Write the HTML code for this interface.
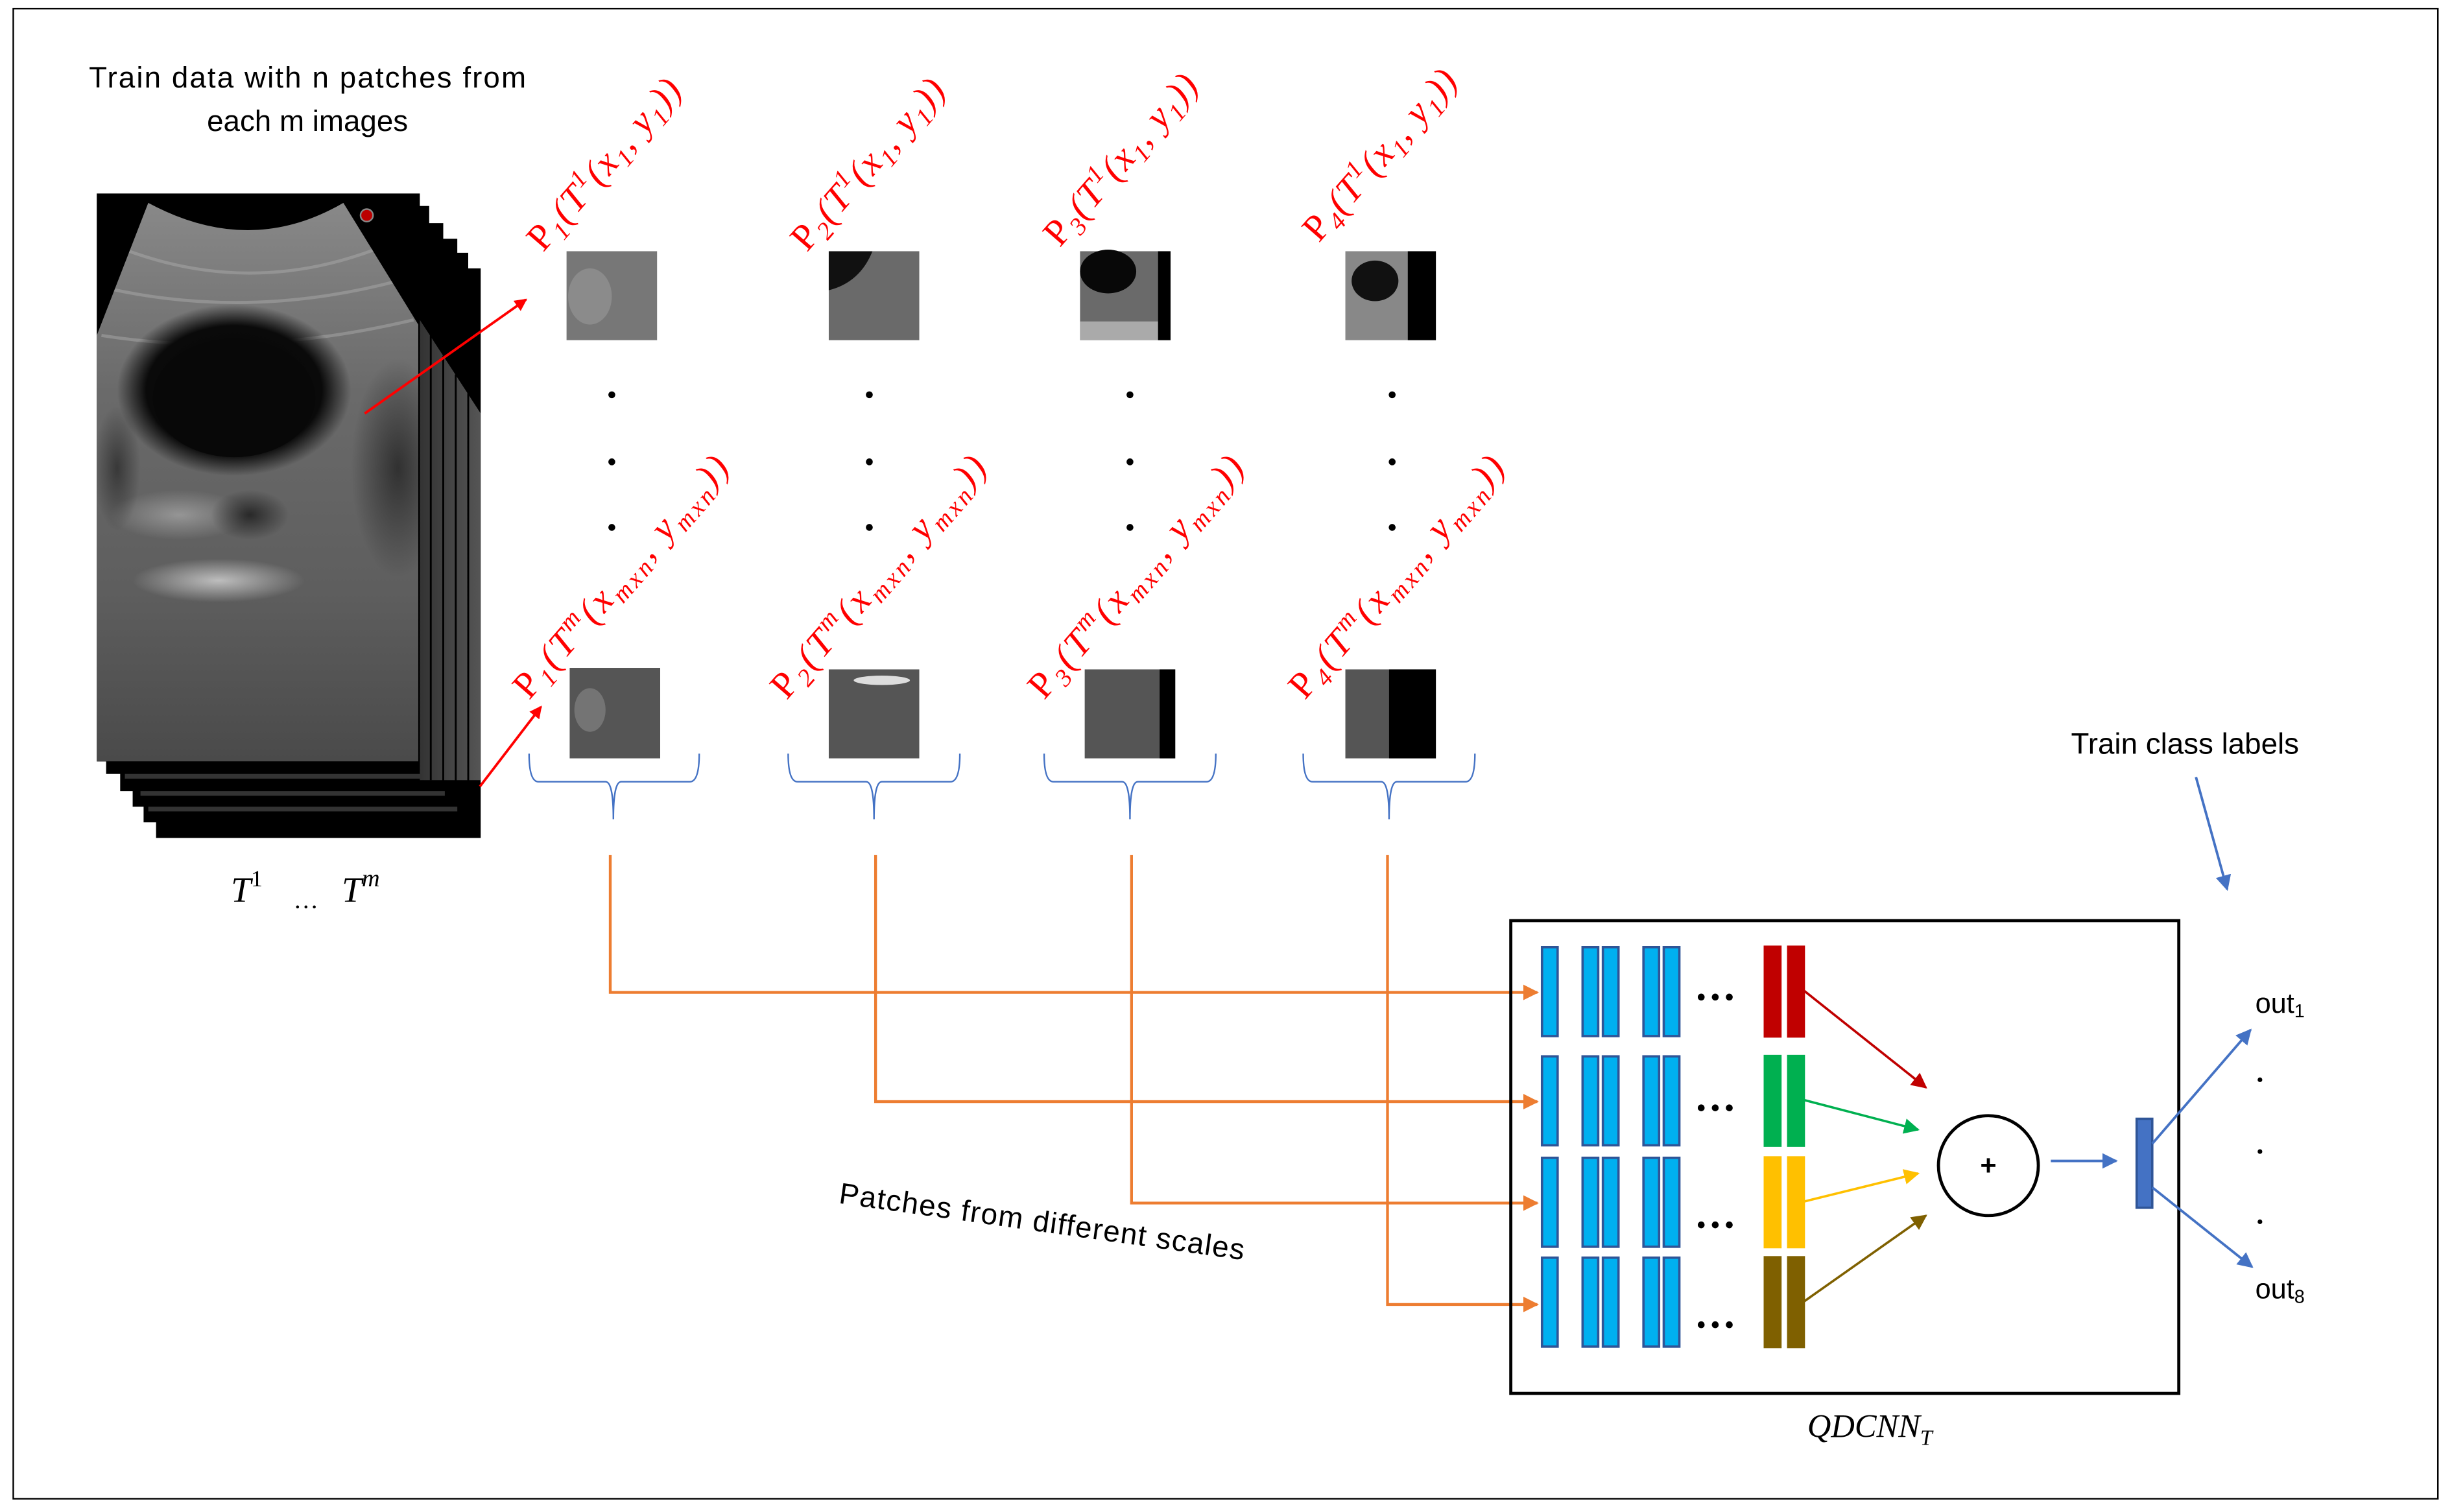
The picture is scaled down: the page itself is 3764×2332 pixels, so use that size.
<!DOCTYPE html>
<html><head><meta charset="utf-8"><style>html,body{margin:0;padding:0;background:#fff;}svg{display:block}</style></head>
<body>
<svg xmlns="http://www.w3.org/2000/svg" width="3764" height="2332" viewBox="0 0 1564 969" preserveAspectRatio="none">
<defs>
<radialGradient id="cyst" cx="0.5" cy="0.5" r="0.5"><stop offset="0" stop-color="#050505"/><stop offset="0.75" stop-color="#0a0a0a"/><stop offset="1" stop-color="#0a0a0a" stop-opacity="0"/></radialGradient>
<radialGradient id="bright" cx="0.5" cy="0.5" r="0.5"><stop offset="0" stop-color="#c8c8c8"/><stop offset="1" stop-color="#c8c8c8" stop-opacity="0"/></radialGradient>
<radialGradient id="dark" cx="0.5" cy="0.5" r="0.5"><stop offset="0" stop-color="#1a1a1a"/><stop offset="1" stop-color="#1a1a1a" stop-opacity="0"/></radialGradient>
<linearGradient id="us" x1="0" y1="0" x2="0" y2="1"><stop offset="0" stop-color="#8a8a8a"/><stop offset="0.35" stop-color="#6a6a6a"/><stop offset="0.7" stop-color="#5e5e5e"/><stop offset="1" stop-color="#4a4a4a"/></linearGradient>
<linearGradient id="side" x1="0" y1="0" x2="1" y2="0"><stop offset="0" stop-color="#333"/><stop offset="1" stop-color="#555"/></linearGradient>
<clipPath id="fan"><path d="M62,215 L95,130 Q160,165 220,130 L268,208 L268,488 L62,488 Z"/></clipPath>
<marker id="ar" markerWidth="8" markerHeight="8" refX="7" refY="4" orient="auto" markerUnits="userSpaceOnUse"><path d="M0,0 L8,4 L0,8 Z" fill="#ff0000"/></marker>
<marker id="ao" markerWidth="10" markerHeight="10" refX="9" refY="5" orient="auto" markerUnits="userSpaceOnUse"><path d="M0,0 L10,5 L0,10 Z" fill="#ED7D31"/></marker>
<marker id="ab" markerWidth="10" markerHeight="10" refX="9" refY="5" orient="auto" markerUnits="userSpaceOnUse"><path d="M0,0 L10,5 L0,10 Z" fill="#4472C4"/></marker>
<marker id="mr" markerWidth="10" markerHeight="10" refX="9" refY="5" orient="auto" markerUnits="userSpaceOnUse"><path d="M0,0 L10,5 L0,10 Z" fill="#C00000"/></marker>
<marker id="mg" markerWidth="10" markerHeight="10" refX="9" refY="5" orient="auto" markerUnits="userSpaceOnUse"><path d="M0,0 L10,5 L0,10 Z" fill="#00B050"/></marker>
<marker id="my" markerWidth="10" markerHeight="10" refX="9" refY="5" orient="auto" markerUnits="userSpaceOnUse"><path d="M0,0 L10,5 L0,10 Z" fill="#FFC000"/></marker>
<marker id="mb" markerWidth="10" markerHeight="10" refX="9" refY="5" orient="auto" markerUnits="userSpaceOnUse"><path d="M0,0 L10,5 L0,10 Z" fill="#7F6000"/></marker>
</defs>

<rect x="8.5" y="5.5" width="1553.5" height="955" fill="none" stroke="#000" stroke-width="1"/>

<text x="197" y="56" font-family="Liberation Sans, sans-serif" font-size="19" text-anchor="middle" textLength="280">Train data with n patches from</text>
<text x="197" y="84" font-family="Liberation Sans, sans-serif" font-size="19" text-anchor="middle">each m images</text>

<!-- stack back layers -->
<rect x="100" y="172" width="208" height="365" fill="#000"/>
<rect x="92" y="162" width="208" height="365" fill="#000"/>
<rect x="85" y="153" width="208" height="364" fill="#000"/>
<rect x="77" y="143" width="207" height="364" fill="#000"/>
<rect x="68" y="132" width="207" height="364" fill="#000"/>
<path d="M269,205 L308,265 L308,500 L269,500 Z" fill="url(#side)"/>
<g stroke="#000" stroke-width="1.2"><line x1="276" y1="215" x2="276" y2="500"/><line x1="284" y1="228" x2="284" y2="505"/><line x1="292" y1="240" x2="292" y2="515"/><line x1="300" y1="252" x2="300" y2="525"/></g>
<g fill="#333"><rect x="80" y="496" width="190" height="3"/><rect x="90" y="507" width="195" height="3"/><rect x="95" y="517" width="198" height="3"/></g>
<!-- main ultrasound -->
<rect x="62" y="124" width="207" height="364" fill="#000"/>
<g clip-path="url(#fan)">
<rect x="62" y="124" width="207" height="364" fill="url(#us)"/>
<g stroke="#aaa" stroke-width="2" opacity="0.5" fill="none"><path d="M80,160 Q160,190 240,160"/><path d="M70,185 Q160,205 255,180"/><path d="M65,215 Q160,230 265,205"/></g>
<ellipse cx="150" cy="250" rx="75" ry="55" fill="url(#cyst)"/>
<ellipse cx="150" cy="255" rx="52" ry="38" fill="#080808"/>
<ellipse cx="140" cy="372" rx="55" ry="14" fill="url(#bright)" opacity="0.9"/>
<ellipse cx="115" cy="330" rx="45" ry="16" fill="url(#bright)" opacity="0.5"/>
<ellipse cx="160" cy="330" rx="25" ry="16" fill="url(#dark)" opacity="0.8"/>
<ellipse cx="255" cy="300" rx="30" ry="70" fill="url(#dark)" opacity="0.7"/>
<ellipse cx="75" cy="300" rx="15" ry="40" fill="url(#dark)" opacity="0.6"/>
</g>
<circle cx="235" cy="138" r="4" fill="#b00" stroke="#888" stroke-width="1"/>

<!-- red arrows -->
<line x1="233.7" y1="265" x2="337" y2="192" stroke="#ff0000" stroke-width="1.6" marker-end="url(#ar)"/>
<line x1="307.5" y1="504" x2="346.6" y2="453" stroke="#ff0000" stroke-width="1.6" marker-end="url(#ar)"/>

<!-- patches -->
<rect x="363" y="161" width="58" height="57" fill="#777"/>
<ellipse cx="378" cy="190" rx="14" ry="18" fill="#999" opacity="0.6"/>
<rect x="531" y="161" width="58" height="57" fill="#6a6a6a"/>
<path d="M531,161 h28 q-8,20 -28,25 z" fill="#111"/>
<rect x="692" y="161" width="58" height="57" fill="#6a6a6a"/>
<ellipse cx="710" cy="174" rx="18" ry="14" fill="#080808"/>
<rect x="692" y="206" width="50" height="12" fill="#aaa"/>
<rect x="742" y="161" width="8" height="57" fill="#000"/>
<rect x="862" y="161" width="58" height="57" fill="#888"/>
<ellipse cx="881" cy="180" rx="15" ry="13" fill="#111"/>
<rect x="902" y="161" width="18" height="57" fill="#000"/>
<rect x="365" y="428" width="58" height="58" fill="#555"/>
<ellipse cx="378" cy="455" rx="10" ry="14" fill="#888" opacity="0.6"/>
<rect x="531" y="429" width="58" height="57" fill="#555"/>
<ellipse cx="565" cy="436" rx="18" ry="3" fill="#ddd"/>
<rect x="695" y="429" width="58" height="57" fill="#555"/>
<rect x="743" y="429" width="10" height="57" fill="#000"/>
<rect x="862" y="429" width="58" height="57" fill="#555"/>
<rect x="890" y="429" width="30" height="57" fill="#000"/>

<!-- dots -->
<g fill="#000">
<circle cx="392" cy="253" r="2.2"/><circle cx="392" cy="296" r="2.2"/><circle cx="392" cy="338" r="2.2"/>
<circle cx="557" cy="253" r="2.2"/><circle cx="557" cy="296" r="2.2"/><circle cx="557" cy="338" r="2.2"/>
<circle cx="724" cy="253" r="2.2"/><circle cx="724" cy="296" r="2.2"/><circle cx="724" cy="338" r="2.2"/>
<circle cx="892" cy="253" r="2.2"/><circle cx="892" cy="296" r="2.2"/><circle cx="892" cy="338" r="2.2"/>
</g>

<!-- rotated labels -->
<g font-family="Liberation Serif, serif" font-style="italic" font-size="24" fill="#ff0000">
<text transform="translate(348,162) rotate(-49)" textLength="137" lengthAdjust="spacing"><tspan font-style="normal">P</tspan><tspan font-size="16" dy="5">1</tspan><tspan dy="-5">(T</tspan><tspan font-size="16" dy="-9">1</tspan><tspan dy="9">(x</tspan><tspan font-size="16" dy="5">1</tspan><tspan dy="-5">, y</tspan><tspan font-size="16" dy="5">1</tspan><tspan dy="-5">))</tspan></text>
<text transform="translate(517,162) rotate(-49)" textLength="137" lengthAdjust="spacing"><tspan font-style="normal">P</tspan><tspan font-size="16" dy="5">2</tspan><tspan dy="-5">(T</tspan><tspan font-size="16" dy="-9">1</tspan><tspan dy="9">(x</tspan><tspan font-size="16" dy="5">1</tspan><tspan dy="-5">, y</tspan><tspan font-size="16" dy="5">1</tspan><tspan dy="-5">))</tspan></text>
<text transform="translate(679,159) rotate(-49)" textLength="137" lengthAdjust="spacing"><tspan font-style="normal">P</tspan><tspan font-size="16" dy="5">3</tspan><tspan dy="-5">(T</tspan><tspan font-size="16" dy="-9">1</tspan><tspan dy="9">(x</tspan><tspan font-size="16" dy="5">1</tspan><tspan dy="-5">, y</tspan><tspan font-size="16" dy="5">1</tspan><tspan dy="-5">))</tspan></text>
<text transform="translate(845,156) rotate(-49)" textLength="137" lengthAdjust="spacing"><tspan font-style="normal">P</tspan><tspan font-size="16" dy="5">4</tspan><tspan dy="-5">(T</tspan><tspan font-size="16" dy="-9">1</tspan><tspan dy="9">(x</tspan><tspan font-size="16" dy="5">1</tspan><tspan dy="-5">, y</tspan><tspan font-size="16" dy="5">1</tspan><tspan dy="-5">))</tspan></text>

<text transform="translate(339,449) rotate(-49)" textLength="197" lengthAdjust="spacing"><tspan font-style="normal">P</tspan><tspan font-size="16" dy="5">1</tspan><tspan dy="-5">(T</tspan><tspan font-size="16" dy="-9">m</tspan><tspan dy="9">(x</tspan><tspan font-size="16" dy="5">mxn</tspan><tspan dy="-5">, y</tspan><tspan font-size="16" dy="5">mxn</tspan><tspan dy="-5">))</tspan></text>
<text transform="translate(504,449) rotate(-49)" textLength="197" lengthAdjust="spacing"><tspan font-style="normal">P</tspan><tspan font-size="16" dy="5">2</tspan><tspan dy="-5">(T</tspan><tspan font-size="16" dy="-9">m</tspan><tspan dy="9">(x</tspan><tspan font-size="16" dy="5">mxn</tspan><tspan dy="-5">, y</tspan><tspan font-size="16" dy="5">mxn</tspan><tspan dy="-5">))</tspan></text>
<text transform="translate(669,449) rotate(-49)" textLength="197" lengthAdjust="spacing"><tspan font-style="normal">P</tspan><tspan font-size="16" dy="5">3</tspan><tspan dy="-5">(T</tspan><tspan font-size="16" dy="-9">m</tspan><tspan dy="9">(x</tspan><tspan font-size="16" dy="5">mxn</tspan><tspan dy="-5">, y</tspan><tspan font-size="16" dy="5">mxn</tspan><tspan dy="-5">))</tspan></text>
<text transform="translate(836,449) rotate(-49)" textLength="197" lengthAdjust="spacing"><tspan font-style="normal">P</tspan><tspan font-size="16" dy="5">4</tspan><tspan dy="-5">(T</tspan><tspan font-size="16" dy="-9">m</tspan><tspan dy="9">(x</tspan><tspan font-size="16" dy="5">mxn</tspan><tspan dy="-5">, y</tspan><tspan font-size="16" dy="5">mxn</tspan><tspan dy="-5">))</tspan></text>
</g>

<!-- braces -->
<g fill="none" stroke="#4472C4" stroke-width="1">
<path d="M339,483 Q339,501 345,501 H388 Q393,501 393,525 Q393,501 398,501 H442 Q448,501 448,483"/>
<path d="M505,483 Q505,501 511,501 H555 Q560,501 560,525 Q560,501 565,501 H609 Q615,501 615,483"/>
<path d="M669,483 Q669,501 675,501 H719 Q724,501 724,525 Q724,501 729,501 H773 Q779,501 779,483"/>
<path d="M835,483 Q835,501 841,501 H885 Q890,501 890,525 Q890,501 895,501 H939 Q945,501 945,483"/>
</g>

<!-- T labels -->
<text x="148" y="578" font-family="Liberation Serif, serif" font-style="italic" font-size="23">T<tspan font-style="normal" font-size="15" dy="-10">1</tspan></text>
<text x="188" y="582" font-family="Liberation Serif, serif" font-size="16">…</text>
<text x="219" y="578" font-family="Liberation Serif, serif" font-style="italic" font-size="23">T<tspan font-size="16" dy="-10">m</tspan></text>

<!-- orange connectors -->
<g fill="none" stroke="#ED7D31" stroke-width="1.8">
<polyline points="391,548 391,636 985,636" marker-end="url(#ao)"/>
<polyline points="561,548 561,706 985,706" marker-end="url(#ao)"/>
<polyline points="725,548 725,771 985,771" marker-end="url(#ao)"/>
<polyline points="889,548 889,836 985,836" marker-end="url(#ao)"/>
</g>

<text transform="translate(537,771) rotate(8)" font-family="Liberation Sans, sans-serif" font-size="19" textLength="262">Patches from different scales</text>

<!-- CNN box -->
<rect x="968" y="590" width="428" height="303" fill="none" stroke="#000" stroke-width="2"/>
<g fill="#00B0F0" stroke="#2F5597" stroke-width="1.5">
<rect x="988" y="607" width="10" height="57"/><rect x="1014" y="607" width="10" height="57"/><rect x="1027" y="607" width="10" height="57"/><rect x="1053" y="607" width="10" height="57"/><rect x="1066" y="607" width="10" height="57"/>
<rect x="988" y="677" width="10" height="57"/><rect x="1014" y="677" width="10" height="57"/><rect x="1027" y="677" width="10" height="57"/><rect x="1053" y="677" width="10" height="57"/><rect x="1066" y="677" width="10" height="57"/>
<rect x="988" y="742" width="10" height="57"/><rect x="1014" y="742" width="10" height="57"/><rect x="1027" y="742" width="10" height="57"/><rect x="1053" y="742" width="10" height="57"/><rect x="1066" y="742" width="10" height="57"/>
<rect x="988" y="806" width="10" height="57"/><rect x="1014" y="806" width="10" height="57"/><rect x="1027" y="806" width="10" height="57"/><rect x="1053" y="806" width="10" height="57"/><rect x="1066" y="806" width="10" height="57"/>
</g>
<g fill="#000">
<circle cx="1090" cy="639" r="2.2"/><circle cx="1099" cy="639" r="2.2"/><circle cx="1108" cy="639" r="2.2"/>
<circle cx="1090" cy="710" r="2.2"/><circle cx="1099" cy="710" r="2.2"/><circle cx="1108" cy="710" r="2.2"/>
<circle cx="1090" cy="785" r="2.2"/><circle cx="1099" cy="785" r="2.2"/><circle cx="1108" cy="785" r="2.2"/>
<circle cx="1090" cy="849" r="2.2"/><circle cx="1099" cy="849" r="2.2"/><circle cx="1108" cy="849" r="2.2"/>
</g>
<rect x="1130" y="606" width="11.5" height="59" fill="#C00000"/><rect x="1145" y="606" width="11.5" height="59" fill="#C00000"/>
<rect x="1130" y="676" width="11.5" height="59" fill="#00B050"/><rect x="1145" y="676" width="11.5" height="59" fill="#00B050"/>
<rect x="1130" y="741" width="11.5" height="59" fill="#FFC000"/><rect x="1145" y="741" width="11.5" height="59" fill="#FFC000"/>
<rect x="1130" y="805" width="11.5" height="59" fill="#7F6000"/><rect x="1145" y="805" width="11.5" height="59" fill="#7F6000"/>
<line x1="1156" y1="635" x2="1234" y2="697" stroke="#C00000" stroke-width="1.5" marker-end="url(#mr)"/>
<line x1="1156" y1="705" x2="1229" y2="724" stroke="#00B050" stroke-width="1.5" marker-end="url(#mg)"/>
<line x1="1156" y1="770" x2="1229" y2="752" stroke="#FFC000" stroke-width="1.5" marker-end="url(#my)"/>
<line x1="1156" y1="834" x2="1234" y2="779" stroke="#7F6000" stroke-width="1.5" marker-end="url(#mb)"/>
<circle cx="1274" cy="747" r="32" fill="none" stroke="#000" stroke-width="2"/>
<text x="1274" y="753" font-family="Liberation Sans, sans-serif" font-size="18" font-weight="bold" text-anchor="middle">+</text>
<line x1="1314" y1="744" x2="1356" y2="744" stroke="#4472C4" stroke-width="1.6" marker-end="url(#ab)"/>
<rect x="1369" y="717" width="10" height="57" fill="#4472C4" stroke="#2F5597" stroke-width="1.5"/>
<line x1="1379" y1="733" x2="1442" y2="660" stroke="#4472C4" stroke-width="1.6" marker-end="url(#ab)"/>
<line x1="1379" y1="761" x2="1443" y2="812" stroke="#4472C4" stroke-width="1.6" marker-end="url(#ab)"/>
<text x="1445" y="649" font-family="Liberation Sans, sans-serif" font-size="18">out<tspan font-size="12" dy="3">1</tspan></text>
<text x="1445" y="832" font-family="Liberation Sans, sans-serif" font-size="18">out<tspan font-size="12" dy="3">8</tspan></text>
<g fill="#000"><circle cx="1448" cy="692" r="1.5"/><circle cx="1448" cy="738" r="1.5"/><circle cx="1448" cy="783" r="1.5"/></g>
<text x="1400" y="483" font-family="Liberation Sans, sans-serif" font-size="19" text-anchor="middle">Train class labels</text>
<line x1="1407" y1="498" x2="1427" y2="570" stroke="#4472C4" stroke-width="1.6" marker-end="url(#ab)"/>
<text x="1158" y="921" font-family="Liberation Serif, serif" font-style="italic" font-size="21">QDCNN<tspan font-size="14" dy="5">T</tspan></text>
</svg>
</body></html>
